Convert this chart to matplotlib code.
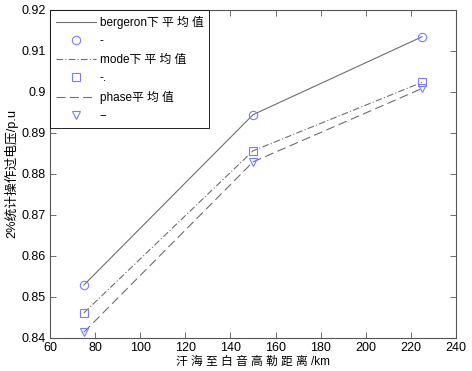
import matplotlib
matplotlib.use('Agg')
import matplotlib.pyplot as plt

plt.rcParams['font.family'] = ['Liberation Sans', 'Noto Sans CJK SC', 'DejaVu Sans']
plt.rcParams['font.size'] = 9

# distance (km)
distance = [75, 150, 225]
bergeron = [0.8529, 0.8944, 0.9134]
mode = [0.8461, 0.8856, 0.9023]
phase = [0.8414, 0.8829, 0.9008]

line_labels = ['bergeron下 平 均 值', 'mode下 平 均 值', 'phase平 均 值']
marker_labels = ['-', '-.', '--']
x_ticks = [60, 80, 100, 120, 140, 160, 180, 200, 220, 240]
y_ticks = [0.84, 0.85, 0.86, 0.87, 0.88, 0.89, 0.9, 0.91, 0.92]
y_ticklabels = ['0.84', '0.85', '0.86', '0.87', '0.88', '0.89', '0.9', '0.91', '0.92']


def main():
    fig = plt.figure(figsize=(4.72, 3.71), dpi=100)
    ax = fig.add_axes([0.106, 0.089, 0.86, 0.885])

    line_color = '#6e6e6e'
    marker_color = '#7b7bff'
    styles = ['-', (0, (6, 2, 1, 2)), (0, (8, 4))]
    markers = ['o', 's', 'v']
    series = [bergeron, mode, phase]

    for vals, ls, mk, lab, mlab in zip(series, styles, markers, line_labels, marker_labels):
        ax.plot(distance, vals, color=line_color, linestyle=ls, linewidth=0.8, label=lab)
        ax.plot(distance, vals, linestyle='none', marker=mk, markersize=6,
                markerfacecolor='none', markeredgecolor=marker_color,
                markeredgewidth=0.8, label=mlab)

    ax.set_xlim(60, 240)
    ax.set_ylim(0.84, 0.92)
    ax.set_xticks(x_ticks)
    ax.set_yticks(y_ticks)
    ax.set_yticklabels(y_ticklabels)
    ax.tick_params(direction='in', top=True, right=True, length=4, width=0.6,
                   color='#555555', labelsize=9, pad=3)
    for sp in ax.spines.values():
        sp.set_color('#555555')
        sp.set_linewidth(0.8)

    ax.set_xlabel('汗 海 至 白 音 高 勒 距 离 /km', fontsize=8.5, labelpad=1)
    ax.set_ylabel('2%统计操作过电压/p.u', fontsize=9.2, labelpad=2)

    leg = ax.legend(loc='upper left', bbox_to_anchor=(0, 1), borderaxespad=0,
                    fancybox=False, edgecolor='black', framealpha=1,
                    handlelength=3.4, handletextpad=0.3, labelspacing=0.55,
                    borderpad=0.5, fontsize=8.5)
    leg.get_frame().set_linewidth(0.6)

    fig.savefig('out.png', dpi=100)


if __name__ == "__main__":
    main()
